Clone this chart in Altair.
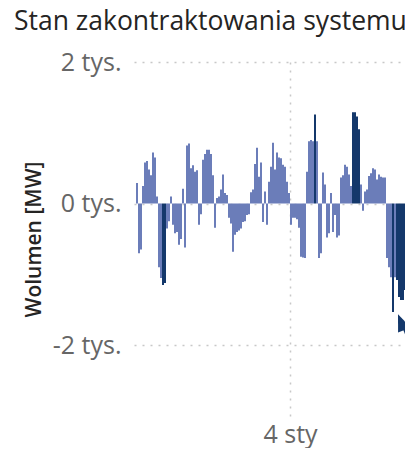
import altair as alt
import pandas as pd

# Bar values (MW), one per time step
values = [
    290, -700, -650, 250, 580, 600, 480, 400, 720, 650,
    100, -900, -1050, -1150, -1120, -350, -250, 100, -300, -420,
    -400, -580, -500, 210, -620, 820, 850, 500, 540, 450,
    470, -300, -150, 620, 700, 760, 760, 700, 400, -340,
    80, 100, 200, 410, 150, 120, -200, -280, -680, -440,
    -400, -380, -350, -260, -250, -160, -150, 160, 200, 560,
    790, 380, 580, -260, 170, -300, 310, 520, 860, 480,
    720, 650, 640, 550, 520, 310, 150, -300, -200, -200,
    -220, -340, -750, -760, -770, 450, 880, 900, 880, 1260,
    880, -770, -700, 440, 270, -480, -420, 150, -400, -160,
    -480, -450, 370, 400, 550, 520, 410, 250, 1290, 1290,
    1230, 1050, 270, -100, 170, 200, 390, 430, 500, 480,
    340, 410, 380, 370, 370, -770, -900, -1040, -1530, -1040,
    -1080, -1320, -1360, -1360, -1220, -1300, -1500, -1220, -1250,
]
# Highlighted (dark) bars by index
dark_idx = [13, 14, 89, 108, 109, 110, 111, 128, 130, 131, 132, 133, 134, 135, 136, 137, 138]

x_tick_values = [77]
x_tick_labels = ["4 sty"]
y_tick_values = [-2000, 0, 2000]

# Annotation arrow (in data units)
arrow_tip = {"i": 131, "v": -1562}
arrow_line = {"i": 134, "v": -1760, "i2": 140.5, "v2": -2226}

LIGHT = "#6b7db9"
DARK = "#14386b"
FONT = "Open Sans"

n = len(values)
idx = list(range(n)) + [n]          # closing point for the last step
vals = values + [values[-1]]
is_dark = [k in dark_idx for k in range(n)] + [(n - 1) in dark_idx]
df = pd.DataFrame({
    "i": idx,
    "light": [0 if d else v for v, d in zip(vals, is_dark)],
    "dark": [v if d else 0 for v, d in zip(vals, is_dark)],
    "z": 0,
})

xscale = alt.Scale(domain=[-1, 134.5], nice=False, zero=False)
yscale = alt.Scale(domain=[-3000, 2000], nice=False, zero=False)

xaxis = alt.Axis(
    values=x_tick_values,
    labelExpr="'" + x_tick_labels[0] + "'",
    grid=True, gridDash=[2, 6], gridColor="#c8c8c8", gridWidth=1.5,
    domain=False, ticks=False, title=None,
    labelFont=FONT, labelFontSize=25, labelColor="#666666", labelPadding=6,
)
yaxis = alt.Axis(
    values=y_tick_values,
    labelExpr="(datum.value/1000) + ' tys.'",
    grid=True, gridDash=[2, 6], gridColor="#c8c8c8", gridWidth=1.5,
    domain=False, ticks=False, title="Wolumen [MW]",
    labelFont=FONT, labelFontSize=25, labelColor="#666666", labelPadding=13,
    titleFont=FONT, titleFontSize=21, titleColor="#252423", titleFontWeight=600,
    titlePadding=8,
)

base = alt.Chart(df)
light_area = base.mark_area(clip=True, interpolate="step-after", color=LIGHT, opacity=1).encode(
    x=alt.X("i:Q", scale=xscale, axis=xaxis),
    y=alt.Y("light:Q", scale=yscale, axis=yaxis),
    y2="z:Q",
)
dark_area = base.mark_area(clip=True, interpolate="step-after", color=DARK, opacity=1).encode(
    x=alt.X("i:Q", scale=xscale),
    y=alt.Y("dark:Q", scale=yscale),
    y2="z:Q",
)

arrow_df = pd.DataFrame([arrow_line])
line = alt.Chart(arrow_df).mark_rule(clip=True, color=DARK, strokeWidth=2.5).encode(
    x=alt.X("i:Q", scale=xscale), x2="i2:Q",
    y=alt.Y("v:Q", scale=yscale), y2="v2:Q",
)
head_df = pd.DataFrame([arrow_tip])
head = alt.Chart(head_df).mark_point(
    shape="M0,0L0.8,2L-0.8,2Z", filled=True, fill=DARK, color=DARK,
    opacity=1, size=289, angle=338, strokeWidth=0,
).encode(
    x=alt.X("i:Q", scale=xscale),
    y=alt.Y("v:Q", scale=yscale),
)

chart = alt.layer(light_area, dark_area, line, head).properties(
    width=271, height=354,
    autosize=alt.AutoSizeParams(type="none"),
    padding={"left": 126, "top": 54, "right": 0, "bottom": 32},
    title=alt.TitleParams(
        "Stan zakontraktowania systemu", anchor="start", frame="group",
        dx=-120, dy=-11, font=FONT, fontSize=26.5, fontWeight="normal", color="#252423",
    ),
).configure_view(stroke=None)

chart.save("out.html", embed_options={"renderer": "svg", "actions": False})
